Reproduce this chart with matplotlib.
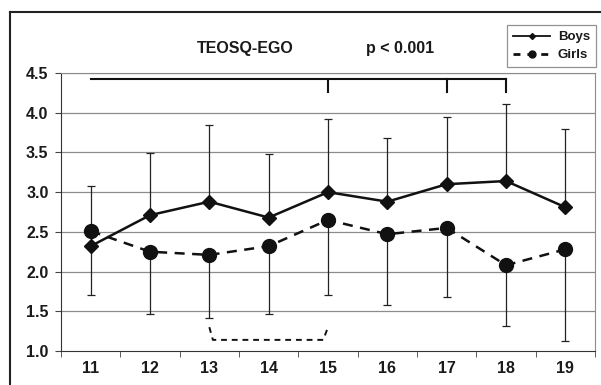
import matplotlib.pyplot as plt
from matplotlib.lines import Line2D
import numpy as np

plt.rcParams['font.family'] = ['Liberation Sans', 'DejaVu Sans']

ages = [11, 12, 13, 14, 15, 16, 17, 18, 19]
boys_mean = [2.32, 2.71, 2.88, 2.68, 3.00, 2.88, 3.10, 3.14, 2.81]
boys_upper = [3.08, 3.49, 3.84, 3.48, 3.92, 3.68, 3.95, 4.11, 3.80]
girls_mean = [2.51, 2.25, 2.21, 2.32, 2.65, 2.47, 2.55, 2.08, 2.28]
girls_lower = [1.71, 1.47, 1.42, 1.47, 1.70, 1.58, 1.68, 1.31, 1.13]

# significance brackets
boys_bracket = [11, 18]
boys_bracket_ticks = [15, 17, 18]
girls_bracket = [13, 15]

boys_mean = np.array(boys_mean)
girls_mean = np.array(girls_mean)
zeros = np.zeros(len(ages))

fig = plt.figure(figsize=(6.01, 3.85), dpi=100)
ax = fig.add_axes([61 / 601, 1 - 351 / 385, 534 / 601, 278 / 385])

ax.set_xlim(10.5, 19.5)
ax.set_ylim(1.0, 4.5)

for yv in np.arange(1.5, 4.51, 0.5):
    ax.axhline(yv, color='#8c8c8c', lw=0.9, zorder=0)

ax.errorbar(ages, boys_mean, yerr=[zeros, np.array(boys_upper) - boys_mean],
            fmt='none', ecolor='#222222', elinewidth=0.9, capsize=3, capthick=0.9, zorder=2)
ax.errorbar(ages, girls_mean, yerr=[girls_mean - np.array(girls_lower), zeros],
            fmt='none', ecolor='#222222', elinewidth=0.9, capsize=3, capthick=0.9, zorder=2)

ax.plot(ages, boys_mean, color='#111111', lw=1.8, marker='D', ms=7.5,
        zorder=4)
ax.plot(ages, girls_mean, color='#111111', lw=1.8, ls=(0, (4, 3)), marker='o', ms=10,
        zorder=3)

# brackets
by = 4.42
ax.plot(boys_bracket, [by, by], color='#111111', lw=1.5)
for t in boys_bracket_ticks:
    ax.plot([t, t], [by, 4.26], color='#111111', lw=1.5)
g0, g1 = girls_bracket
ax.plot([g0, g0 + 0.06, g1 - 0.08, g1], [1.3, 1.14, 1.14, 1.3],
        color='#111111', lw=1.4, ls=(0, (3, 2.5)))

ax.set_xticks(ages)
ax.set_xticks(np.arange(10.5, 19.6, 1), minor=True)
ax.tick_params(axis='x', which='major', length=0, pad=7)
ax.tick_params(axis='x', which='minor', length=4, direction='out', color='#444444')
ax.set_yticks(np.arange(1.0, 4.51, 0.5))
ax.set_yticklabels([f'{v:.1f}' for v in np.arange(1.0, 4.51, 0.5)])
ax.tick_params(axis='y', length=4, direction='out', color='#444444', pad=5)
for lab in ax.get_xticklabels() + ax.get_yticklabels():
    lab.set_fontweight('bold')
    lab.set_fontsize(11.5)
    lab.set_color('#1a1a1a')

ax.spines['left'].set_color('#333333')
ax.spines['bottom'].set_color('#333333')
ax.spines['top'].set_color('#8c8c8c')
ax.spines['right'].set_color('#8c8c8c')

fig.text(245 / 601, 1 - 48 / 385, 'TEOSQ-EGO', ha='center', va='center',
         fontsize=11.5, fontweight='bold', color='#1a1a1a')
fig.text(400 / 601, 1 - 48 / 385, 'p < 0.001', ha='center', va='center',
         fontsize=11.5, fontweight='bold', color='#1a1a1a')

handles = [
    Line2D([], [], color='#111111', lw=1.3, marker='D', ms=3),
    Line2D([], [], color='#111111', lw=2.0, ls=(0, (2.5, 2.5)), marker='o', ms=5),
]
leg = fig.legend(handles, ['Boys', 'Girls'], loc='upper right',
                 bbox_to_anchor=(596 / 601, 1 - 25 / 385), frameon=True,
                 fancybox=False, edgecolor='#777777', handlelength=2.8,
                 prop={'weight': 'bold', 'size': 9.5}, borderpad=0.45,
                 labelspacing=0.45, handletextpad=0.6, borderaxespad=0)
leg.get_frame().set_linewidth(0.9)
for txt in leg.get_texts():
    txt.set_color('#1a1a1a')

# outer frame around the figure
fig.add_artist(Line2D([10 / 601, 10 / 601], [0, 1 - 12 / 385], transform=fig.transFigure,
                      color='#222222', lw=1.5))
fig.add_artist(Line2D([10 / 601, 1], [1 - 12 / 385, 1 - 12 / 385], transform=fig.transFigure,
                      color='#222222', lw=1.5))

fig.savefig('out.png', dpi=100)
